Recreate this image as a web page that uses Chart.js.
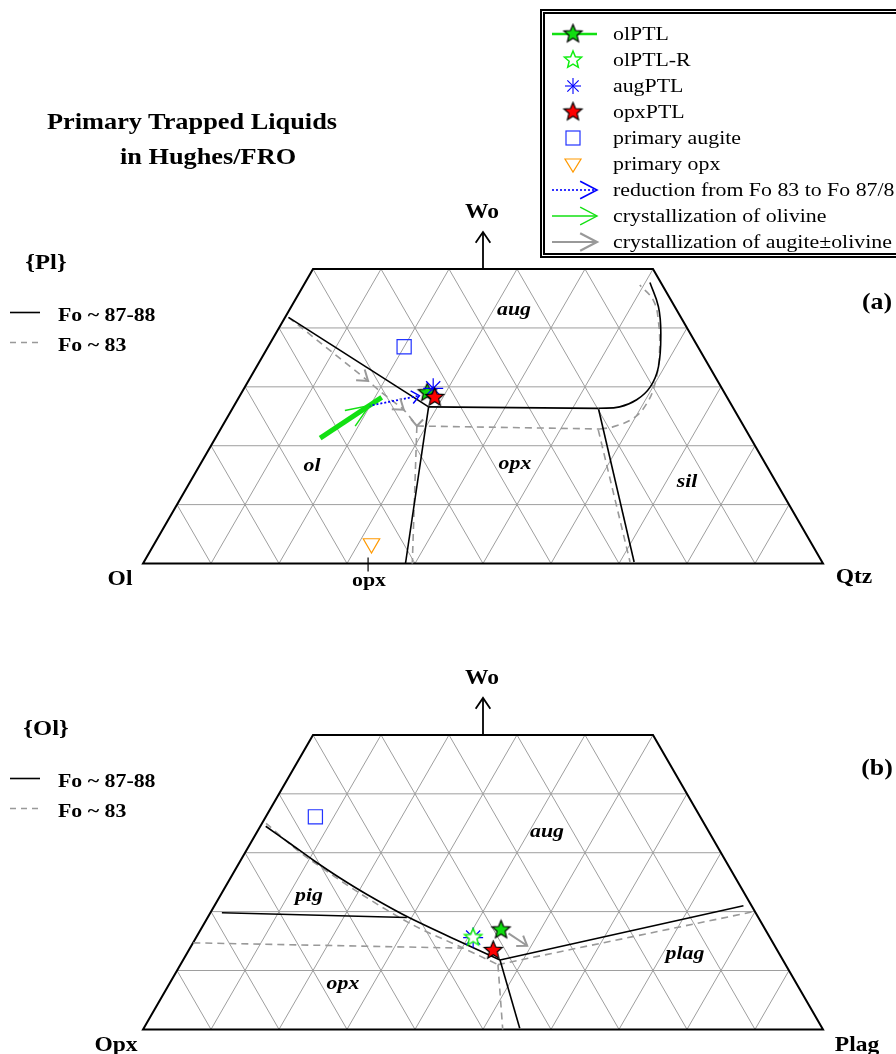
<!DOCTYPE html>
<html>
<head>
<meta charset="utf-8">
<title>Primary Trapped Liquids in Hughes/FRO</title>
<script src="https://cdn.jsdelivr.net/npm/chart.js@4.4.1/dist/chart.umd.min.js"></script>
<style>
  body { margin: 0; background: #fff; }
  #page { position: relative; width: 896px; height: 1054px; overflow: hidden; font-family: "Liberation Serif", "Times New Roman", serif; color: #000; }
  canvas { position: absolute; left: 0; }
  .t { position: absolute; white-space: nowrap; line-height: 1; transform: translate(-50%, -50%) scaleX(1.12); }
  .tl { position: absolute; white-space: nowrap; line-height: 1; transform-origin: 0 50%; transform: translateY(-50%) scaleX(1.12); }
  .b { font-weight: bold; }
  .bi { font-weight: bold; font-style: italic; font-size: 19.5px; }
  #legend { position: absolute; left: 540px; top: 9px; width: 420px; height: 249px; box-sizing: border-box; border: 5px double #000; }
</style>
</head>
<body>
<div id="page">
  <canvas id="chartA" width="896" height="620" style="top:0;width:896px;height:620px"></canvas>
  <canvas id="chartB" width="896" height="434" style="top:620px;width:896px;height:434px"></canvas>
  <div id="legend"></div>

  <div class="t b" style="left:192px;top:122px;font-size:23.5px">Primary Trapped Liquids</div>
  <div class="t b" style="left:208px;top:157px;font-size:23.5px">in Hughes/FRO</div>

  <div class="t b" style="left:46px;top:262px;font-size:22px">{Pl}</div>
  <div class="tl b" style="left:58px;top:315px;font-size:19.5px">Fo ~ 87-88</div>
  <div class="tl b" style="left:58px;top:345px;font-size:19.5px">Fo ~ 83</div>
  <div class="t b" style="left:482px;top:211px;font-size:21px">Wo</div>
  <div class="t b" style="left:120px;top:578px;font-size:21px">Ol</div>
  <div class="t b" style="left:854px;top:576px;font-size:21px">Qtz</div>
  <div class="t b" style="left:369px;top:580px;font-size:19.5px">opx</div>
  <div class="t b" style="left:877px;top:301px;font-size:23px">(a)</div>
  <div class="t bi" style="left:514px;top:309px">aug</div>
  <div class="t bi" style="left:312px;top:465px">ol</div>
  <div class="t bi" style="left:515px;top:463px">opx</div>
  <div class="t bi" style="left:687px;top:481px">sil</div>

  <div class="t b" style="left:46px;top:728px;font-size:22px">{Ol}</div>
  <div class="tl b" style="left:58px;top:781px;font-size:19.5px">Fo ~ 87-88</div>
  <div class="tl b" style="left:58px;top:811px;font-size:19.5px">Fo ~ 83</div>
  <div class="t b" style="left:482px;top:677px;font-size:21px">Wo</div>
  <div class="t b" style="left:116px;top:1044px;font-size:21px">Opx</div>
  <div class="t b" style="left:857px;top:1044px;font-size:21px">Plag</div>
  <div class="t b" style="left:877px;top:767px;font-size:23px">(b)</div>
  <div class="t bi" style="left:547px;top:831px">aug</div>
  <div class="t bi" style="left:309px;top:895px">pig</div>
  <div class="t bi" style="left:343px;top:983px">opx</div>
  <div class="t bi" style="left:685px;top:953px">plag</div>
</div>

<script>
// ---- (a) projection from {Pl}: points are [Wo %, Qtz %] ----
const aFo87OlAug = [[41.8, 0.5], [26.6, 28.7]];
const aFo87OlOpx = [[26.6, 28.7], [0, 38.6]];
const aFo87AugOpx = [[26.6, 28.7], [26.35, 53.8]];
const aFo87AugSil = [[26.35, 53.8], [26.6, 56.8], [27.8, 58.7], [30.0, 59.6], [33.4, 59.1], [39.1, 56.6], [43.6, 54.0], [47.7, 50.7]];
const aFo87OpxSil = [[26.2, 53.9], [0.25, 72.1]];
const aFo83OlAug = [[41.8, 0.5], [31.0, 17.6], [29.2, 20.3], [26.1, 25.3], [23.35, 28.6]];
const aFo83OlOpx = [[23.35, 28.6], [0, 39.6]];
const aFo83AugOpx = [[23.35, 28.6], [22.84, 55.8]];
const aFo83AugSil = [[22.84, 55.8], [23.2, 57.5], [24.7, 59.8], [27.2, 60.5], [30.6, 60.0], [35.7, 58.1], [41.35, 55.1], [44.7, 52.7], [47.3, 49.4]];
const aFo83OpxSil = [[22.7, 55.6], [0.25, 71.5]];
const aOlCryst = [[21.3, 15.4], [28.2, 21.0]];
const aReduction = [[26.75, 19.8], [28.5, 26.4]];
const aOlPTL = [[29.0, 27.3]];
const aAugPTL = [[29.75, 27.8]];
const aOpxPTL = [[28.2, 28.8]];
const aPrimAug = [[36.8, 20.0]];
const aPrimOpx = [[3.4, 31.9]];
const aOpxTick = 33.1;

// ---- (b) projection from {Ol}: points are [Wo %, Plag %] ----
const bFo87PigAug = [[34.5, 0.8], [31.57, 5.84], [28.77, 10.62], [25.71, 16.12], [22.91, 21.49], [19.17, 29.23], [14.67, 39.72], [11.8, 46.6]];
const bFo87PigOpx = [[19.8, 1.7], [19.0, 29.3]];
const bFo87OpxPlag = [[11.8, 46.6], [0.2, 55.3]];
const bFo87AugPlag = [[11.8, 46.6], [21.0, 77.8]];
const bFo83PigAug = [[35.0, 0.6], [31.0, 6.6], [28.8, 10.2], [23.1, 20.35], [17.7, 30.9], [13.8, 40.2], [11.0, 46.7]];
const bFo83PigOpx = [[14.7, 0.05], [13.8, 40.2]];
const bFo83OpxPlag = [[11.0, 46.7], [0, 52.9]];
const bFo83AugPlag = [[11.0, 46.7], [20.0, 79.8]];
const bAugCryst = [[16.3, 45.6], [14.2, 49.4]];
const bOlPTL = [[16.9, 44.2]];
const bOlPTLR = [[15.6, 40.75]];
const bAugPTL = [[15.6, 40.75]];
const bOpxPTL = [[13.4, 44.8]];
const bPrimAug = [[36.1, 7.3]];

// grid / frame
const gridSteps = [10, 20, 30, 40, 50, 60, 70, 80, 90];
const woTop = 50;

const legendLabels = ['olPTL', 'olPTL-R', 'augPTL', 'opxPTL', 'primary augite', 'primary opx',
  'reduction from Fo 83 to Fo 87/8', 'crystallization of olivine', 'crystallization of augite\u00b1olivine'];

const GREEN = '#12e012';
const BLUE = '#0000ff';
const GRAY = '#999999';
const S3 = Math.sqrt(3) / 2;

// ternary [Wo, right end-member] -> cartesian, base = 1
function tern(p) { return { x: p[1] / 100 + p[0] / 200, y: p[0] / 100 * S3 }; }

function starCanvas(fill, stroke, r, lw) {
  const s = Math.ceil(2 * r + 4);
  const c = document.createElement('canvas');
  c.width = s; c.height = s;
  const g = c.getContext('2d');
  g.beginPath();
  for (let i = 0; i < 10; i++) {
    const a = -Math.PI / 2 + i * Math.PI / 5;
    const rr = i % 2 ? r * 0.45 : r;
    g.lineTo(s / 2 + rr * Math.cos(a), s / 2 + rr * Math.sin(a));
  }
  g.closePath();
  g.fillStyle = fill; g.fill();
  g.lineWidth = lw; g.strokeStyle = stroke; g.stroke();
  return c;
}
const redStar = starCanvas('#ff0000', '#000', 9.5, 1.2);
const greenStar = starCanvas('#10dd10', '#000', 9.5, 1.2);
const openStar = starCanvas('#ffffff', '#11ee11', 9, 1.5);

function line(data, color, width, dash, tension) {
  return { data: data.map(tern), showLine: true, borderColor: color, borderWidth: width,
    borderDash: dash || [], pointRadius: 0, tension: tension || 0, order: 10 };
}
function marks(data, style, color, radius, order, extra) {
  return Object.assign({ data: data.map(tern), showLine: false, pointStyle: style, pointRadius: radius,
    borderColor: color, backgroundColor: 'rgba(0,0,0,0)', pointBorderWidth: 1.2, order: order }, extra || {});
}

const solid = (d, t) => line(d, '#000', 1.6, [], t);
const dashed = (d, t) => line(d, GRAY, 1.6, [7, 5], t);

function chevron(ctx, tx, ty, ang, len, half) {
  ctx.beginPath();
  ctx.moveTo(tx - len * Math.cos(ang - half), ty - len * Math.sin(ang - half));
  ctx.lineTo(tx, ty);
  ctx.lineTo(tx - len * Math.cos(ang + half), ty - len * Math.sin(ang + half));
  ctx.stroke();
}

function makeDeco(cfg) {
  return {
    id: 'ternDeco',
    beforeDatasetsDraw(chart) {
      const ctx = chart.ctx;
      const P = p => { const t = tern(p); return [chart.scales.x.getPixelForValue(t.x), chart.scales.y.getPixelForValue(t.y)]; };
      const seg = (a, b) => { const p = P(a), q = P(b); ctx.beginPath(); ctx.moveTo(p[0], p[1]); ctx.lineTo(q[0], q[1]); ctx.stroke(); };
      ctx.save();
      ctx.strokeStyle = '#9e9e9e';
      ctx.lineWidth = 1;
      gridSteps.forEach(v => {
        if (v < woTop) seg([v, 0], [v, 100 - v]);
        const top = Math.min(woTop, 100 - v);
        seg([0, v], [top, v]);
        seg([0, 100 - v], [top, 100 - v - top]);
      });
      // frame
      ctx.strokeStyle = '#000';
      ctx.lineWidth = 2;
      ctx.beginPath();
      [[0, 0], [0, 100], [woTop, 100 - woTop], [woTop, 0]].forEach((p, i) => {
        const q = P(p); i ? ctx.lineTo(q[0], q[1]) : ctx.moveTo(q[0], q[1]);
      });
      ctx.closePath();
      ctx.stroke();
      // Wo arrow
      const w = P([woTop, (100 - woTop) / 2]);
      ctx.lineWidth = 1.8;
      ctx.beginPath(); ctx.moveTo(w[0], w[1]); ctx.lineTo(w[0], w[1] - 37); ctx.stroke();
      chevron(ctx, w[0], w[1] - 37, -Math.PI / 2, 13, 0.6);
      // composition tick on base
      if (cfg.tick != null) {
        const t = P([0, cfg.tick]);
        ctx.lineWidth = 1.2;
        ctx.beginPath(); ctx.moveTo(t[0], t[1] - 6); ctx.lineTo(t[0], t[1] + 8); ctx.stroke();
      }
      // left key lines
      ctx.lineWidth = 1.6;
      ctx.beginPath(); ctx.moveTo(10, cfg.keyY); ctx.lineTo(40, cfg.keyY); ctx.stroke();
      ctx.strokeStyle = GRAY;
      ctx.setLineDash([6, 5]);
      ctx.beginPath(); ctx.moveTo(10, cfg.keyY + 30); ctx.lineTo(42, cfg.keyY + 30); ctx.stroke();
      ctx.restore();
    },
    afterDatasetsDraw(chart) {
      const ctx = chart.ctx;
      const P = p => { const t = tern(p); return [chart.scales.x.getPixelForValue(t.x), chart.scales.y.getPixelForValue(t.y)]; };
      ctx.save();
      cfg.arrows.forEach(a => {
        const tip = P(a.tip), from = P(a.from);
        ctx.strokeStyle = a.color;
        ctx.lineWidth = a.width;
        chevron(ctx, tip[0], tip[1], Math.atan2(tip[1] - from[1], tip[0] - from[0]), a.len, a.half * Math.PI / 180);
      });
      if (cfg.legend) drawLegend(ctx);
      ctx.restore();
    }
  };
}

function drawLegend(ctx) {
  const x = 573, x0 = 552, x1 = 597;
  const y = i => 34 + 26 * i;
  const img = (c, yy) => ctx.drawImage(c, x - c.width / 2, yy - c.height / 2);
  // olPTL
  ctx.strokeStyle = GREEN; ctx.lineWidth = 2.5;
  ctx.beginPath(); ctx.moveTo(x0, y(0)); ctx.lineTo(x1, y(0)); ctx.stroke();
  img(greenStar, y(0));
  img(openStar, y(1));
  // augPTL asterisk
  ctx.strokeStyle = BLUE; ctx.lineWidth = 1.1;
  for (let k = 0; k < 4; k++) {
    const a = k * Math.PI / 4;
    ctx.beginPath();
    ctx.moveTo(x - 8 * Math.cos(a), y(2) - 8 * Math.sin(a));
    ctx.lineTo(x + 8 * Math.cos(a), y(2) + 8 * Math.sin(a));
    ctx.stroke();
  }
  img(redStar, y(3));
  ctx.strokeStyle = '#2233ff'; ctx.lineWidth = 1.2;
  ctx.strokeRect(x - 7, y(4) - 7, 14, 14);
  ctx.strokeStyle = '#ff9900';
  ctx.beginPath(); ctx.moveTo(x - 8, y(5) - 5); ctx.lineTo(x + 8, y(5) - 5); ctx.lineTo(x, y(5) + 8); ctx.closePath(); ctx.stroke();
  // arrows
  const arrowRow = (i, color, width, dash) => {
    ctx.strokeStyle = color; ctx.lineWidth = width; ctx.setLineDash(dash);
    ctx.beginPath(); ctx.moveTo(x0, y(i)); ctx.lineTo(x1, y(i)); ctx.stroke();
    ctx.setLineDash([]);
    chevron(ctx, x1, y(i), 0, 19, 0.48);
  };
  arrowRow(6, BLUE, 1.6, [2, 2]);
  arrowRow(7, GREEN, 1.4, []);
  arrowRow(8, GRAY, 2.2, []);
}

const legendBox = document.getElementById('legend');
legendLabels.forEach((txt, i) => {
  const d = document.createElement('div');
  d.className = 'tl';
  d.style.left = '68px';
  d.style.top = (34 + 26 * i - 14) + 'px';
  d.style.fontSize = '19.5px';
  d.textContent = txt;
  legendBox.appendChild(d);
});

const X_MIN = -143 / 680, X_MAX = (896 - 143) / 680;

function ternChart(id, yMin, yMax, datasets, cfg) {
  return new Chart(document.getElementById(id), {
    type: 'scatter',
    data: { datasets: datasets },
    options: {
      responsive: false,
      animation: false,
      events: [],
      layout: { padding: 0, autoPadding: false },
      plugins: { legend: { display: false }, tooltip: { enabled: false } },
      scales: {
        x: { type: 'linear', display: false, min: X_MIN, max: X_MAX },
        y: { type: 'linear', display: false, min: yMin, max: yMax }
      }
    },
    plugins: [makeDeco(cfg)]
  });
}

// (a) chart: base line at y = 563.5 px in a 620 px canvas
ternChart('chartA', (563.5 - 620) / 680, 563.5 / 680, [
  marks(aOpxPTL, redStar, '#000', 9, 0),
  marks(aAugPTL, 'star', BLUE, 10, 1),
  marks(aOlPTL, greenStar, '#000', 9, 2),
  marks(aPrimAug, 'rect', '#2233ff', 10, 3),
  marks(aPrimOpx, 'triangle', '#ff9900', 9.5, 3, { rotation: 180 }),
  line(aReduction, BLUE, 1.8, [2, 2]),
  line(aOlCryst, GREEN, 5),
  solid(aFo87OlAug), solid(aFo87OlOpx), solid(aFo87AugOpx), solid(aFo87AugSil, 0.4), solid(aFo87OpxSil),
  dashed(aFo83OlAug, 0.2), dashed(aFo83OlOpx), dashed(aFo83AugOpx), dashed(aFo83AugSil, 0.4), dashed(aFo83OpxSil)
], {
  tick: aOpxTick, keyY: 312.5, legend: true,
  arrows: [
    { tip: aOlCryst[0].map((v, i) => v + (aOlCryst[1][i] - v) * 0.8), from: aOlCryst[0], len: 25, half: 22, color: GREEN, width: 1.5 },
    { tip: aReduction[1], from: aReduction[0], len: 10, half: 40, color: BLUE, width: 1.5 },
    { tip: aFo83OlAug[1], from: aFo83OlAug[0], len: 12, half: 35, color: GRAY, width: 2 },
    { tip: aFo83OlAug[3], from: aFo83OlAug[2], len: 12, half: 35, color: GRAY, width: 2 },
    { tip: aFo83OlAug[4], from: [28.0, 26.4], len: 9, half: 42, color: GRAY, width: 2 }
  ]
});

// (b) chart: base line at y = 1029.4 px, canvas starts at 620
ternChart('chartB', (409.4 - 434) / 680, 409.4 / 680, [
  marks(bOpxPTL, redStar, '#000', 9, 0),
  marks(bOlPTL, greenStar, '#000', 9, 0),
  marks(bOlPTLR, openStar, '#11ee11', 9, 1),
  marks(bAugPTL, 'star', BLUE, 10, 2),
  marks(bPrimAug, 'rect', '#2233ff', 10, 3),
  line(bAugCryst, GRAY, 2),
  solid(bFo87PigAug, 0.3), solid(bFo87PigOpx), solid(bFo87OpxPlag), solid(bFo87AugPlag),
  dashed(bFo83PigAug, 0.3), dashed(bFo83PigOpx), dashed(bFo83OpxPlag), dashed(bFo83AugPlag)
], {
  tick: null, keyY: 778.5 - 620, legend: false,
  arrows: [
    { tip: bAugCryst[1], from: bAugCryst[0], len: 11, half: 35, color: GRAY, width: 2 }
  ]
});
</script>
</body>
</html>
